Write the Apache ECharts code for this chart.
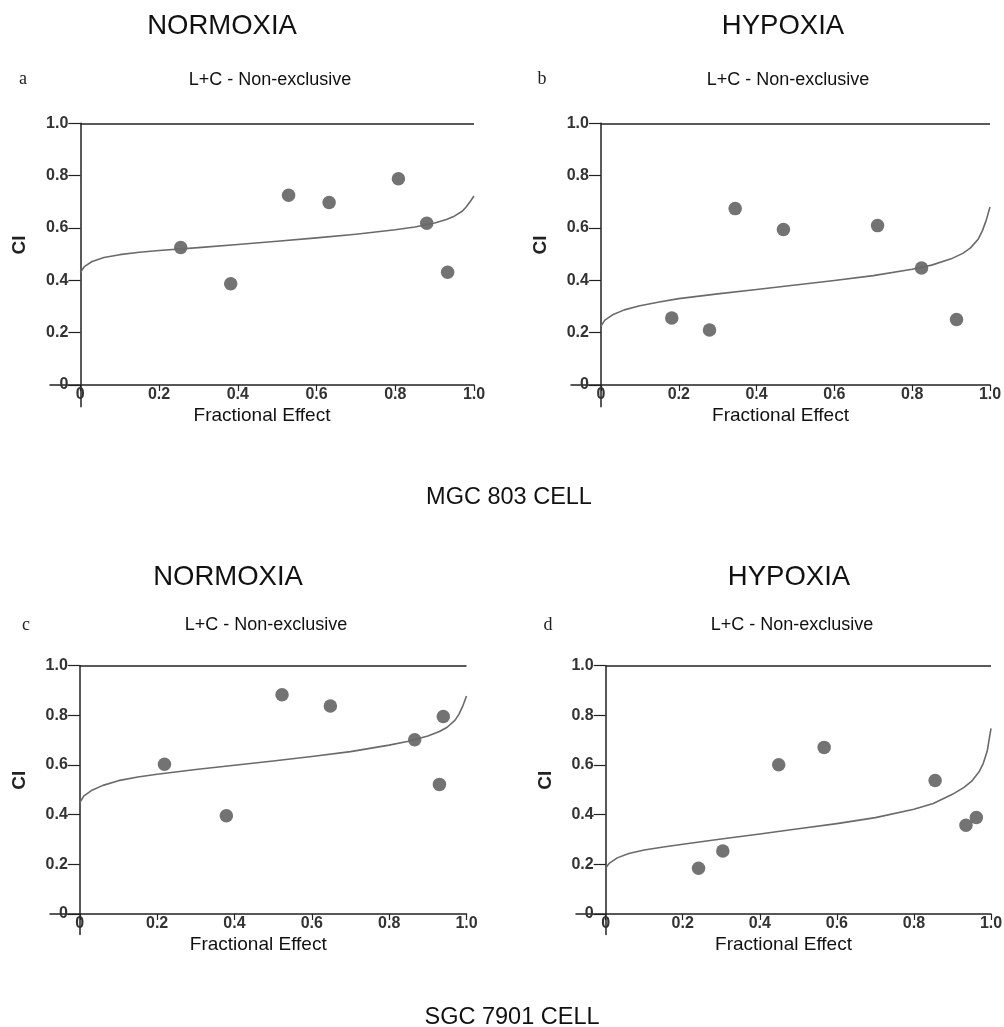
<!DOCTYPE html>
<html>
<head>
<meta charset="utf-8">
<script src="https://cdn.jsdelivr.net/npm/echarts@6/dist/echarts.min.js"></script>
<style>
html,body{margin:0;padding:0;background:#fff;}
#chart{width:1004px;height:1027px;}
</style>
</head>
<body>
<div id="chart"></div>
<script>
// ---------- data ----------
const tickValues = [0, 0.2, 0.4, 0.6, 0.8, 1.0];
const refCI = 1.0;

const panelTitles = ['NORMOXIA', 'HYPOXIA', 'NORMOXIA', 'HYPOXIA'];
const panelLetters = ['a', 'b', 'c', 'd'];
const subTitle = 'L+C - Non-exclusive';
const cellNames = ['MGC 803 CELL', 'SGC 7901 CELL'];

// experimental points: fraction affected (Fa) and combination index (CI)
const faA = [0.255, 0.382, 0.529, 0.632, 0.808, 0.880, 0.933];
const ciA = [0.525, 0.387, 0.725, 0.697, 0.788, 0.618, 0.431];
const faB = [0.182, 0.279, 0.345, 0.469, 0.711, 0.824, 0.914];
const ciB = [0.256, 0.210, 0.674, 0.594, 0.609, 0.447, 0.250];
const faC = [0.219, 0.379, 0.523, 0.648, 0.866, 0.930, 0.940];
const ciC = [0.603, 0.396, 0.883, 0.838, 0.702, 0.522, 0.795];
const faD = [0.241, 0.304, 0.449, 0.567, 0.855, 0.935, 0.962];
const ciD = [0.184, 0.254, 0.601, 0.671, 0.538, 0.357, 0.389];

// simulated Fa-CI curves
const curveFa = [0, 0.01, 0.03, 0.06, 0.1, 0.15, 0.2, 0.3, 0.4, 0.5, 0.6, 0.7, 0.8, 0.85, 0.9, 0.93, 0.95, 0.97, 0.98, 0.99, 1.0];
const curveA  = [0.430, 0.452, 0.472, 0.487, 0.498, 0.507, 0.514, 0.525, 0.537, 0.549, 0.562, 0.576, 0.593, 0.604, 0.619, 0.632, 0.645, 0.664, 0.680, 0.700, 0.722];
const curveB  = [0.225, 0.248, 0.268, 0.287, 0.303, 0.317, 0.330, 0.348, 0.365, 0.382, 0.399, 0.418, 0.442, 0.458, 0.482, 0.503, 0.524, 0.558, 0.588, 0.628, 0.680];
const curveC  = [0.448, 0.475, 0.497, 0.518, 0.537, 0.552, 0.563, 0.582, 0.599, 0.616, 0.634, 0.654, 0.680, 0.696, 0.717, 0.735, 0.752, 0.780, 0.803, 0.836, 0.878];
const curveD  = [0.185, 0.205, 0.226, 0.244, 0.258, 0.270, 0.281, 0.302, 0.322, 0.343, 0.364, 0.388, 0.422, 0.445, 0.482, 0.510, 0.535, 0.575, 0.607, 0.655, 0.748];

const pointsFa = [faA, faB, faC, faD];
const pointsCI = [ciA, ciB, ciC, ciD];
const curves = [curveA, curveB, curveC, curveD];

// ---------- layout ----------
const xMin = -0.077, yMin = -0.083;
const grids = [
  {left: 50,  top: 123.3, width: 424,   height: 283.4},
  {left: 571, top: 123.3, width: 419,   height: 283.4},
  {left: 50,  top: 665.7, width: 416.5, height: 268.9},
  {left: 576, top: 665.7, width: 415,   height: 268.9}
];
const titlePos = [[217, 21], [778, 21], [223, 572], [784, 572]];
const letterPos = [[18, 74], [537, 74], [21, 620], [543, 620]];
const subPos = [[265, 75], [783, 75], [261, 620], [787, 620]];
const cellPos = [[504, 493], [507, 1013]];

const SANS = "'Liberation Sans', Arial, Helvetica, sans-serif";
const SERIF = "'Liberation Serif', 'Times New Roman', serif";
const AX = '#222';
const fmt = v => (v === 0 ? '0' : v.toFixed(1));

const titles = [];
for (let i = 0; i < 4; i++) {
  titles.push({text: panelTitles[i], left: titlePos[i][0], top: titlePos[i][1], textAlign: 'center', textVerticalAlign: 'middle',
    textStyle: {fontFamily: SANS, fontSize: 27.5, fontWeight: 'normal', color: '#111'}});
  titles.push({text: panelLetters[i], left: letterPos[i][0], top: letterPos[i][1], textAlign: 'center', textVerticalAlign: 'middle',
    textStyle: {fontFamily: SERIF, fontSize: 18, fontWeight: 'normal', color: '#222'}});
  titles.push({text: subTitle, left: subPos[i][0], top: subPos[i][1], textAlign: 'center', textVerticalAlign: 'middle',
    textStyle: {fontFamily: SANS, fontSize: 18, fontWeight: 'normal', color: '#111'}});
}
cellNames.forEach((t, i) => titles.push({text: t, left: cellPos[i][0], top: cellPos[i][1], textAlign: 'center', textVerticalAlign: 'middle',
  textStyle: {fontFamily: SANS, fontSize: 23.5, fontWeight: 'normal', color: '#111'}}));

const xAxes = [], yAxes = [], series = [];
for (let i = 0; i < 4; i++) {
  const g = grids[i];
  g.outerBoundsMode = 'none';
  g.containLabel = false;
  // labels/names are laid out from the grid edge; offset them to the zero lines
  const xOff = -xMin / (1 - xMin) * g.width;
  const yOff = -yMin / (1 - yMin) * g.height;
  xAxes.push({
    gridIndex: i, type: 'value', min: xMin, max: 1,
    name: 'Fractional Effect', nameLocation: 'middle', nameGap: 21 - yOff,
    nameTextStyle: {fontFamily: SANS, fontSize: 19, color: '#111'},
    axisLine: {show: true, onZero: true, lineStyle: {color: AX, width: 1.5}},
    axisTick: {show: true, length: 6, customValues: tickValues, lineStyle: {color: AX, width: 1.2}},
    axisLabel: {show: true, customValues: tickValues, formatter: fmt, margin: 2 - yOff,
      fontFamily: SANS, fontSize: 16, fontWeight: 'bold', color: '#333'},
    splitLine: {show: false}
  });
  yAxes.push({
    gridIndex: i, type: 'value', min: yMin, max: 1,
    name: 'CI', nameLocation: 'middle', nameGap: 21,
    nameTextStyle: {fontFamily: SANS, fontSize: 19, fontWeight: 'bold', color: '#222', padding: [0, 0, 0, 40]},
    axisLine: {show: true, onZero: true, lineStyle: {color: AX, width: 1.5}},
    axisTick: {show: true, length: 12, customValues: tickValues, lineStyle: {color: AX, width: 1.2}},
    axisLabel: {show: true, customValues: tickValues, formatter: fmt, margin: 12 - xOff, padding: [0, 0, 6, 0],
      fontFamily: SANS, fontSize: 16, fontWeight: 'bold', color: '#333'},
    splitLine: {show: false}
  });
  series.push({
    type: 'line', xAxisIndex: i, yAxisIndex: i,
    data: curveFa.map((f, k) => [f, curves[i][k]]),
    smooth: false, showSymbol: false, symbol: 'none',
    lineStyle: {color: '#6a6a6a', width: 1.6, join: 'round'}, silent: true
  });
  series.push({
    type: 'scatter', xAxisIndex: i, yAxisIndex: i,
    data: pointsFa[i].map((f, k) => [f, pointsCI[i][k]]),
    symbol: 'circle', symbolSize: 13.5,
    itemStyle: {color: '#505050'},
    markLine: {symbol: 'none', silent: true, label: {show: false},
      lineStyle: {color: AX, width: 1.6, type: 'solid'},
      data: [[{coord: [0, refCI]}, {coord: [1, refCI]}]]}
  });
}

const chart = echarts.init(document.getElementById('chart'), null, {renderer: 'canvas'});
chart.setOption({
  animation: false,
  backgroundColor: '#fff',
  title: titles,
  grid: grids,
  xAxis: xAxes,
  yAxis: yAxes,
  series: series
});
</script>
</body>
</html>
